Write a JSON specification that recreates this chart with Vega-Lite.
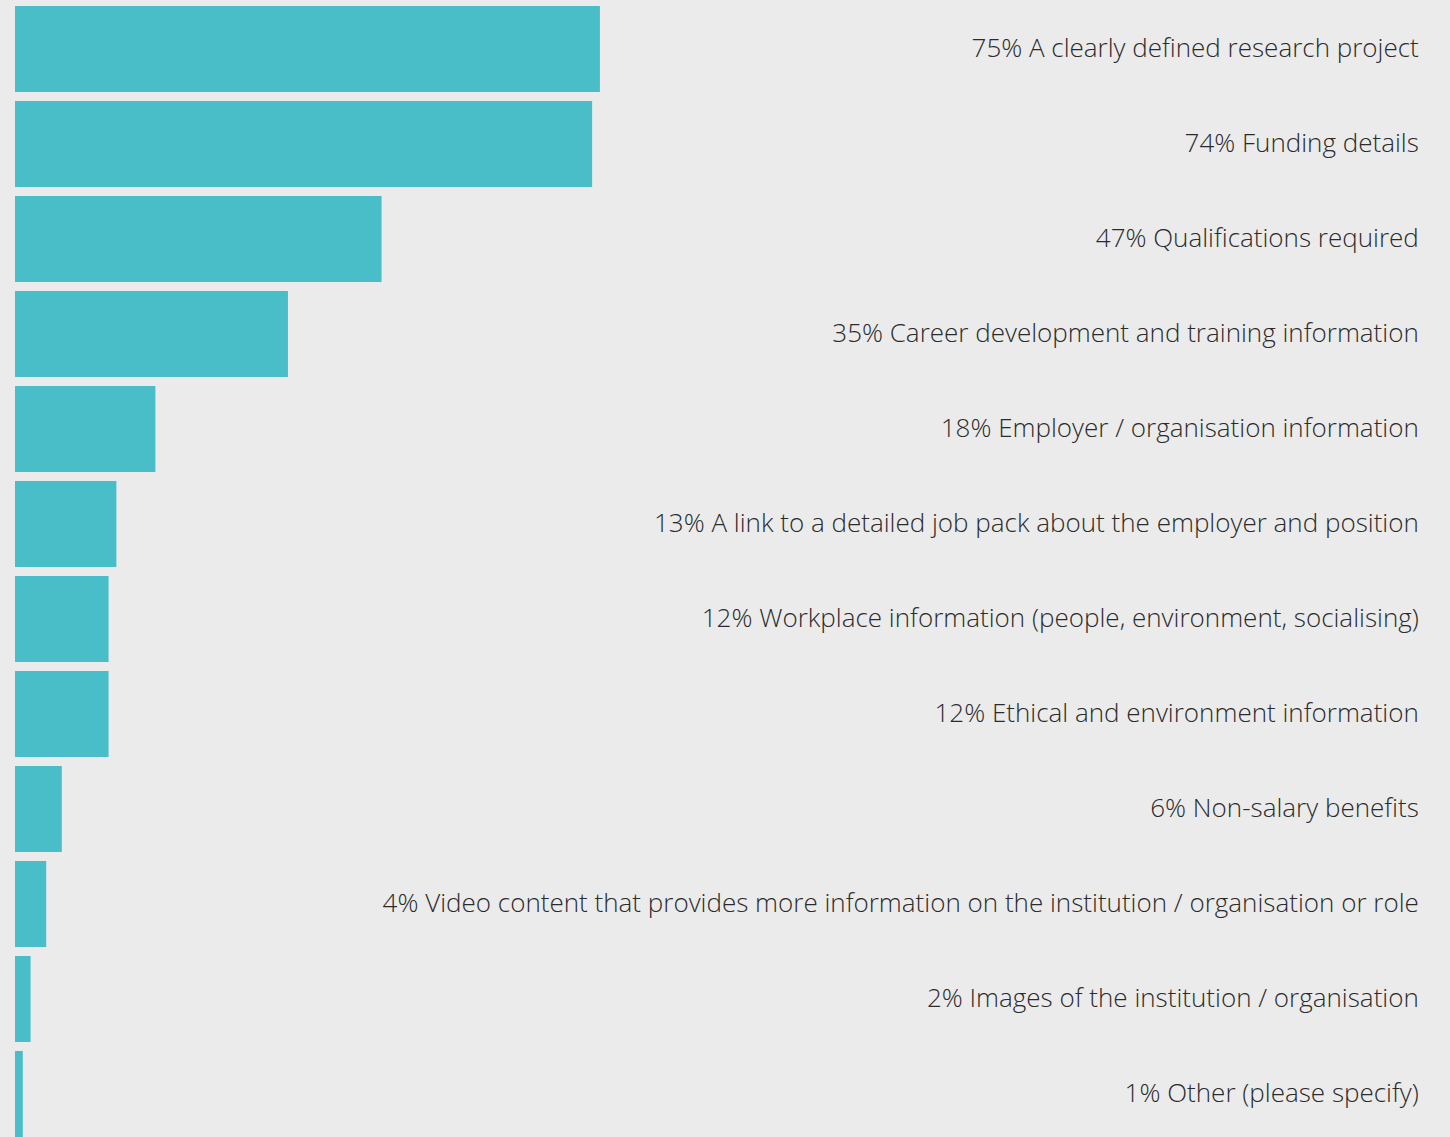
{
  "$schema": "https://vega.github.io/schema/vega-lite/v6.json",
  "width": 1435,
  "height": 1131,
  "autosize": {"type": "none"},
  "padding": {"left": 15, "top": 6, "right": 0, "bottom": 0},
  "background": "#ebebeb",
  "config": {"view": {"stroke": null}},
  "data": {
    "values": [
      {"item": "A clearly defined research project", "pct": 75},
      {"item": "Funding details", "pct": 74},
      {"item": "Qualifications required", "pct": 47},
      {"item": "Career development and training information", "pct": 35},
      {"item": "Employer / organisation information", "pct": 18},
      {"item": "A link to a detailed job pack about the employer and position", "pct": 13},
      {"item": "Workplace information (people, environment, socialising)", "pct": 12},
      {"item": "Ethical and environment information", "pct": 12},
      {"item": "Non-salary benefits", "pct": 6},
      {"item": "Video content that provides more information on the institution / organisation or role", "pct": 4},
      {"item": "Images of the institution / organisation", "pct": 2},
      {"item": "Other (please specify)", "pct": 1}
    ]
  },
  "transform": [{"calculate": "datum.pct + '% ' + datum.item", "as": "label"}],
  "encoding": {
    "y": {
      "field": "item",
      "type": "nominal",
      "sort": null,
      "scale": {"paddingInner": 0.095, "paddingOuter": 0},
      "axis": null
    }
  },
  "layer": [
    {
      "mark": {"type": "bar", "color": "#49bec9"},
      "encoding": {
        "x": {"field": "pct", "type": "quantitative", "scale": {"domain": [0, 184], "nice": false, "zero": true}, "axis": null}
      }
    },
    {
      "mark": {"type": "text", "align": "right", "baseline": "middle", "font": "Open Sans", "fontWeight": 300, "fontSize": 26, "color": "#2b2b2b"},
      "encoding": {
        "x": {"datum": 180, "type": "quantitative"},
        "text": {"field": "label"}
      }
    }
  ]
}
